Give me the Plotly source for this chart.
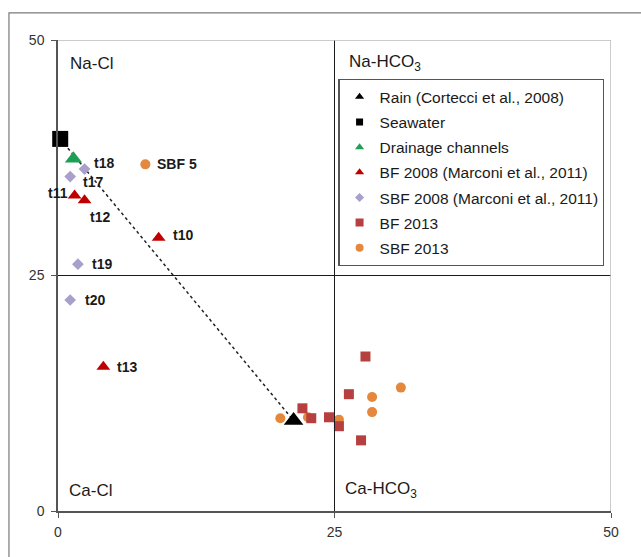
import plotly.graph_objects as go

# Rain (Cortecci et al., 2008) and seawater end-members
rain_x = [21.3]
rain_y = [9.6]
sea_x = [0.2]
sea_y = [39.5]

# Drainage channels
drain_x = [1.4]
drain_y = [37.4]

# BF 2008 (Marconi et al., 2011)
bf08_names = ["t11", "t12", "t10", "t13"]
bf08_x = [1.5, 2.4, 9.1, 4.1]
bf08_y = [33.5, 33.0, 29.0, 15.3]

# SBF 2008 (Marconi et al., 2011)
sbf08_names = ["t18", "t17", "t19", "t20"]
sbf08_x = [2.4, 1.1, 1.8, 1.1]
sbf08_y = [36.3, 35.5, 26.2, 22.4]

# BF 2013
bf13_x = [22.1, 22.9, 24.5, 25.4, 26.3, 27.8, 27.4]
bf13_y = [10.9, 9.85, 9.95, 9.0, 12.4, 16.4, 7.5]

# SBF 2013
sbf13_names = ["SBF 5", "", "", "", "", "", ""]
sbf13_x = [7.9, 20.1, 22.6, 25.4, 28.4, 28.4, 31.0]
sbf13_y = [36.8, 9.85, 9.95, 9.7, 12.1, 10.5, 13.1]

# Axis ticks
ticks = [0, 25, 50]

# Label offsets in pixels (dx, dy) for labelled samples
label_shift = {
    "t11": (-17, 2), "t12": (15, -17), "t10": (24, 3), "t13": (24, 0),
    "t18": (19, 6), "t17": (23, -5), "t19": (24, 0), "t20": (25, 0),
    "SBF 5": (32, 0),
}

RED = "#C00000"
GREEN = "#1E9E57"
LAV = "#A99FCB"
BRICK = "#B5403F"
ORANGE = "#E4883D"

fig = go.Figure()

# Mixing line between seawater and rain
fig.add_trace(go.Scatter(
    x=[sea_x[0], rain_x[0]], y=[sea_y[0], rain_y[0]], mode="lines",
    line=dict(color="#222222", width=1.5, dash="dot"),
    showlegend=False, hoverinfo="skip"))

series = [
    ("Rain (Cortecci et al., 2008)", rain_x, rain_y, "triangle-up", "black", 17, 8),
    ("Seawater", sea_x, sea_y, "square", "black", 16, 7),
    ("Drainage channels", drain_x, drain_y, "triangle-up", GREEN, 15, 8),
    ("BF 2008 (Marconi et al., 2011)", bf08_x, bf08_y, "triangle-up", RED, 12, 8),
    ("SBF 2008 (Marconi et al., 2011)", sbf08_x, sbf08_y, "diamond", LAV, 9, 7),
    ("BF 2013", bf13_x, bf13_y, "square", BRICK, 10, 8),
    ("SBF 2013", sbf13_x, sbf13_y, "circle", ORANGE, 10, 8),
]

draw_order = [6, 5, 4, 3, 2, 1, 0]
for i in draw_order:
    name, xs, ys, sym, col, size, _ = series[i]
    fig.add_trace(go.Scatter(
        x=xs, y=ys, mode="markers", name=name, showlegend=False,
        marker=dict(symbol=sym, color=col, size=size, line=dict(width=0)),
        cliponaxis=False))

# Legend entries with compact symbols
for k, (name, xs, ys, sym, col, size, lsize) in enumerate(series):
    fig.add_trace(go.Scatter(
        x=[None], y=[None], mode="markers", name=name,
        legendgroup=f"g{k}",
        marker=dict(symbol=sym, color=col, size=lsize, line=dict(width=0))))

# Sample labels
for names, xs, ys in [(bf08_names, bf08_x, bf08_y),
                      (sbf08_names, sbf08_x, sbf08_y),
                      (sbf13_names, sbf13_x, sbf13_y)]:
    for n, xv, yv in zip(names, xs, ys):
        if not n:
            continue
        dx, dy = label_shift[n]
        fig.add_annotation(
            x=xv, y=yv, text=f"<b>{n}</b>", showarrow=False,
            xshift=dx, yshift=dy, xanchor="center", yanchor="middle",
            font=dict(size=14, color="#1a1a1a", family="Liberation Sans, Arial"))

# Quadrant labels
quad = [
    ("Na-Cl", 0.018, 0.951),
    ("Na-HCO<sub>3</sub>", 0.522, 0.951),
    ("Ca-Cl", 0.016, 0.044),
    ("Ca-HCO<sub>3</sub>", 0.515, 0.044),
]
for t, xp, yp in quad:
    fig.add_annotation(
        x=xp, y=yp, xref="paper", yref="paper", text=t, showarrow=False,
        xanchor="left", yanchor="middle",
        font=dict(size=17, color="#1a1a1a", family="Liberation Sans, Arial"))

# Quadrant dividers
fig.add_shape(type="line", x0=25, x1=25, y0=0, y1=50, xref="x", yref="y",
              line=dict(color="#1a1a1a", width=1))
fig.add_shape(type="line", x0=0, x1=50, y0=25, y1=25, xref="x", yref="y",
              line=dict(color="#1a1a1a", width=1))
# Light top/right plot border
fig.add_shape(type="path", path="M 0,50 L 50,50 L 50,0", xref="x", yref="y",
              line=dict(color="#BBBBBB", width=1.5))
# Outer frame
fig.add_shape(type="path", xref="paper", yref="paper",
              path="M -0.0887,-0.2 L -0.0887,1.0575 L 1.2,1.0575",
              line=dict(color="#7a7a7a", width=1.2))

axis_common = dict(
    range=[0, 50], tickvals=ticks, ticktext=[str(t) for t in ticks],
    showgrid=False, zeroline=False, showline=True,
    linecolor="#555555", linewidth=1.5,
    ticks="outside", ticklen=5, tickcolor="#555555", tickwidth=1.2,
    tickfont=dict(size=14, color="#333333", family="Liberation Sans, Arial"),
)
fig.update_xaxes(**axis_common, ticklabelstandoff=2)
fig.update_yaxes(**axis_common, ticklabelstandoff=4)

fig.update_layout(
    width=641, height=557,
    margin=dict(l=58, r=30, t=40, b=46),
    paper_bgcolor="white", plot_bgcolor="white",
    legend=dict(
        x=0.507, y=0.917, xanchor="left", yanchor="top",
        bgcolor="white", bordercolor="#555555", borderwidth=1.2,
        font=dict(size=15.5, color="#1a1a1a", family="Liberation Sans, Arial"),
        traceorder="grouped", tracegroupgap=2, itemwidth=30,
    ),
    font=dict(family="Liberation Sans, Arial"),
)

fig.write_html("out.html")
